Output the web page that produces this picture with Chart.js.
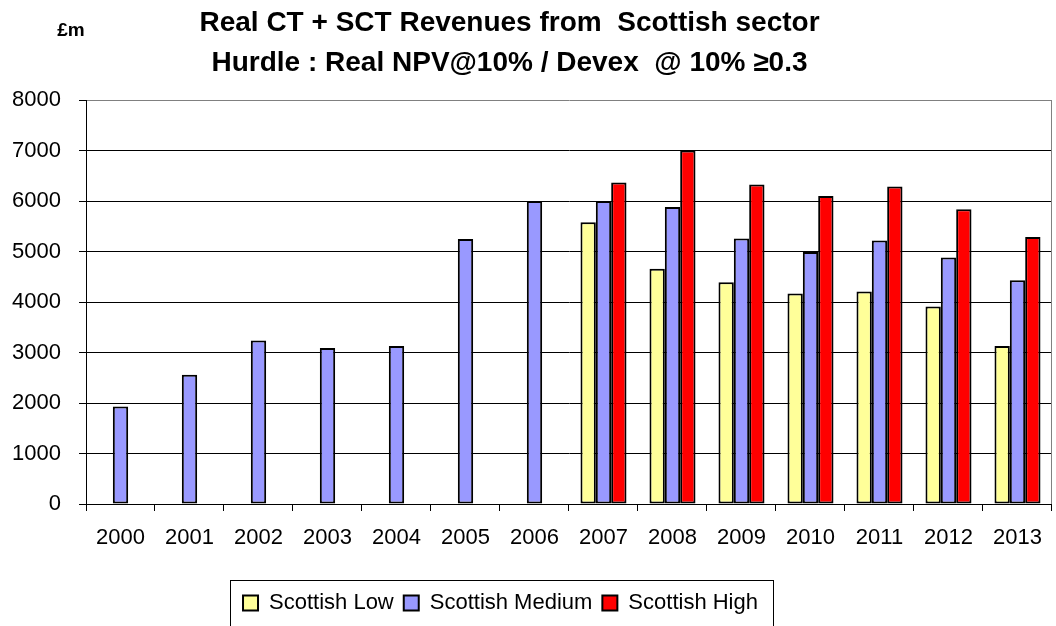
<!DOCTYPE html>
<html>
<head>
<meta charset="utf-8">
<script src="https://cdn.jsdelivr.net/npm/chart.js@4.4.1/dist/chart.umd.min.js"></script>
<style>
  body { margin: 0; background: #fff; }
  #wrap { width: 1056px; height: 626px; }
</style>
</head>
<body>
<div id="wrap"><canvas id="revChart" width="1056" height="626"></canvas></div>
<script>
// Data (£m)
const years = ['2000', '2001', '2002', '2003', '2004', '2005', '2006',
               '2007', '2008', '2009', '2010', '2011', '2012', '2013'];
const scottishLow = [null, null, null, null, null, null, null,
                     5580, 4660, 4390, 4170, 4210, 3910, 3130];
const scottishMedium = [1930, 2560, 3240, 3090, 3130, 5250, 6000,
                        6000, 5880, 5260, 4990, 5220, 4880, 4430];
const scottishHigh = [null, null, null, null, null, null, null,
                      6370, 7000, 6330, 6100, 6290, 5840, 5290];
const yMin = 0;
const yMax = 8000;
const yStep = 1000;

const FONT = "'Liberation Sans', Arial, sans-serif";

// Extra decorations: unit label, grey plot frame on right, legend frame
const extras = {
    id: 'extras',
    afterLayout(chart) {
        // legend and title sit a little left of centre in the original
        chart.legend.left -= 27;
        chart.legend.right -= 27;
        chart.titleBlock.left -= 18;
        chart.titleBlock.right -= 18;
    },
    beforeDatasetsDraw(chart) {
        const { ctx, chartArea } = chart;
        ctx.save();
        ctx.strokeStyle = '#808080';
        ctx.lineWidth = 1;
        ctx.beginPath();
        ctx.moveTo(chartArea.right - 0.5, chartArea.top);
        ctx.lineTo(chartArea.right - 0.5, chartArea.bottom);
        ctx.stroke();
        ctx.restore();
    },
    afterDraw(chart) {
        const { ctx } = chart;
        const lg = chart.legend;
        ctx.save();
        ctx.fillStyle = '#000';
        ctx.font = 'bold 19px ' + FONT;
        ctx.textAlign = 'center';
        ctx.textBaseline = 'middle';
        ctx.fillText('£m', 71, 31);

        const rowW = lg.lineWidths[0];
        const startX = lg.left + (lg.right - lg.left - rowW) / 2;
        ctx.strokeStyle = '#000';
        ctx.lineWidth = 1;
        ctx.strokeRect(Math.round(startX - 8) + 0.5, Math.round(lg.top - 2) + 0.5,
                       Math.round(rowW + 18), 60);
        ctx.restore();
    }
};

const ctx = document.getElementById('revChart').getContext('2d');
const revChart = new Chart(ctx, {
    type: 'bar',
    data: {
        labels: years,
        datasets: [
            {
                label: 'Scottish Low',
                data: scottishLow,
                backgroundColor: '#FFFF99',
                borderColor: '#000',
                borderWidth: 2,
                borderSkipped: false
            },
            {
                label: 'Scottish Medium',
                data: scottishMedium,
                backgroundColor: '#9999FF',
                borderColor: '#000',
                borderWidth: 2,
                borderSkipped: false
            },
            {
                label: 'Scottish High',
                data: scottishHigh,
                backgroundColor: '#FF0000',
                borderColor: '#000',
                borderWidth: 2,
                borderSkipped: false
            }
        ]
    },
    options: {
        responsive: false,
        animation: false,
        categoryPercentage: 0.667,
        barPercentage: 1.0,
        layout: {
            padding: { left: 0, right: 1, top: 0, bottom: 2 }
        },
        plugins: {
            title: {
                display: true,
                text: ['Real CT + SCT Revenues from  Scottish sector',
                       'Hurdle : Real NPV@10% / Devex  @ 10% \u22650.3'],
                color: '#000',
                font: { family: FONT, size: 28, weight: 'bold', lineHeight: 1.43 },
                padding: { top: 3, bottom: 17 }
            },
            legend: {
                position: 'bottom',
                labels: {
                    color: '#000',
                    font: { family: FONT, size: 22 },
                    boxWidth: 15,
                    boxHeight: 15,
                    padding: 10
                }
            },
            tooltip: { enabled: false }
        },
        scales: {
            x: {
                grid: {
                    offset: true,
                    drawOnChartArea: false,
                    tickLength: 7,
                    color: '#000'
                },
                border: { color: '#000', width: 1 },
                ticks: {
                    color: '#000',
                    font: { family: FONT, size: 22 },
                    padding: 14,
                    maxRotation: 0,
                    autoSkip: false
                },
                afterFit(scale) { scale.height = 78; }
            },
            y: {
                min: yMin,
                max: yMax,
                ticks: {
                    stepSize: yStep,
                    color: '#000',
                    font: { family: FONT, size: 22 },
                    padding: 18,
                    callback: v => String(v)
                },
                grid: {
                    color: c => (c.tick && c.tick.value === yMax) ? '#808080' : '#000',
                    tickColor: '#000',
                    tickLength: 7
                },
                border: { color: '#000', width: 1 },
                afterFit(scale) { scale.width = 86; }
            }
        }
    },
    plugins: [extras]
});
</script>
</body>
</html>
